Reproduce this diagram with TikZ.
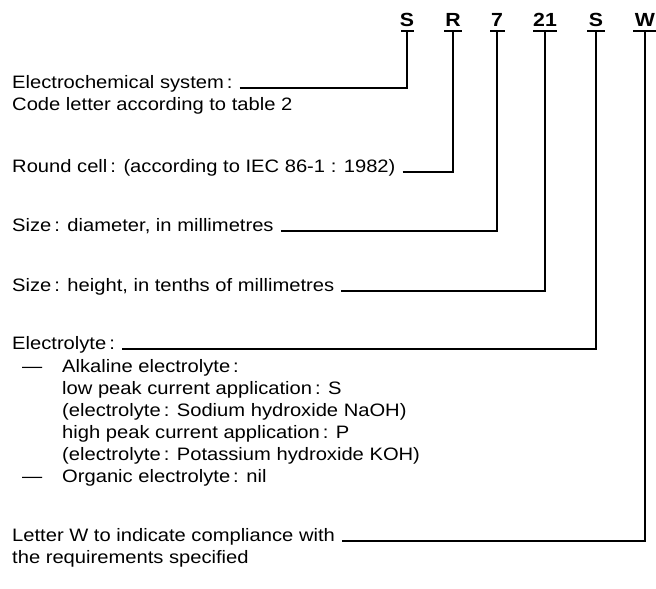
\documentclass[tikz,border=0pt]{standalone}
\usepackage{fontspec}
\setmainfont{Liberation Sans}[FakeStretch=1.12]
\begin{document}
\begin{tikzpicture}[x=1pt,y=-1pt,
  lbl/.style={anchor=base west,inner sep=0pt,font=\fontsize{18}{22}\selectfont},
  code/.style={anchor=base,inner sep=0pt,font=\fontsize{19}{22}\selectfont\bfseries},
  conn/.style={line width=1.2pt},
  uline/.style={line width=1.2pt}]
\useasboundingbox (0,0) rectangle (656,589);
% code letters
\node[code] (c1) at (407,27) {S};
\node[code] (c2) at (453,27) {R};
\node[code] (c3) at (497,27) {7};
\node[code] (c4) at (545,27) {21};
\node[code] (c5) at (596,27) {S};
\node[code] (c6) at (645,27) {W};
\draw[uline] (401,31) -- (414,31) (444,31) -- (462,31) (490,31) -- (505,31)
  (533,31) -- (557,31) (587,31) -- (605,31) (633,31) -- (656,31);
% labels
\node[lbl] (t1) at (12,88) {Electrochemical system\,:};
\node[lbl] (t1b) at (12,110) {Code letter according to table 2};
\node[lbl] (t2) at (12,172) {Round cell\,: (according to IEC 86-1 : 1982)};
\node[lbl] (t3) at (12,231) {Size\,: diameter, in millimetres};
\node[lbl] (t4) at (12,291) {Size\,: height, in tenths of millimetres};
\node[lbl] (t5) at (12,349) {Electrolyte\,:};
\node[lbl] (d1) at (22,372) {---};
\node[lbl] (t5a) at (62,372) {Alkaline electrolyte\,:};
\node[lbl] (t5b) at (62,394) {low peak current application\,: S};
\node[lbl] (t5c) at (62,416) {(electrolyte\,: Sodium hydroxide NaOH)};
\node[lbl] (t5d) at (62,438) {high peak current application\,: P};
\node[lbl] (t5e) at (62,460) {(electrolyte\,: Potassium hydroxide KOH)};
\node[lbl] (d2) at (22,482) {---};
\node[lbl] (t5f) at (62,482) {Organic electrolyte\,: nil};
\node[lbl] (t6) at (12,541) {Letter W to indicate compliance with};
\node[lbl] (t6b) at (12,563) {the requirements specified};
% connectors
\draw[conn] ([xshift=7pt]t1.base east) -- (407,88) -- (407,31);
\draw[conn] ([xshift=7pt]t2.base east) -- (453,172) -- (453,31);
\draw[conn] ([xshift=7pt]t3.base east) -- (497,231) -- (497,31);
\draw[conn] ([xshift=7pt]t4.base east) -- (545,291) -- (545,31);
\draw[conn] ([xshift=7pt]t5.base east) -- (596,349) -- (596,31);
\draw[conn] ([xshift=7pt]t6.base east) -- (645,541) -- (645,31);
\end{tikzpicture}
\end{document}
